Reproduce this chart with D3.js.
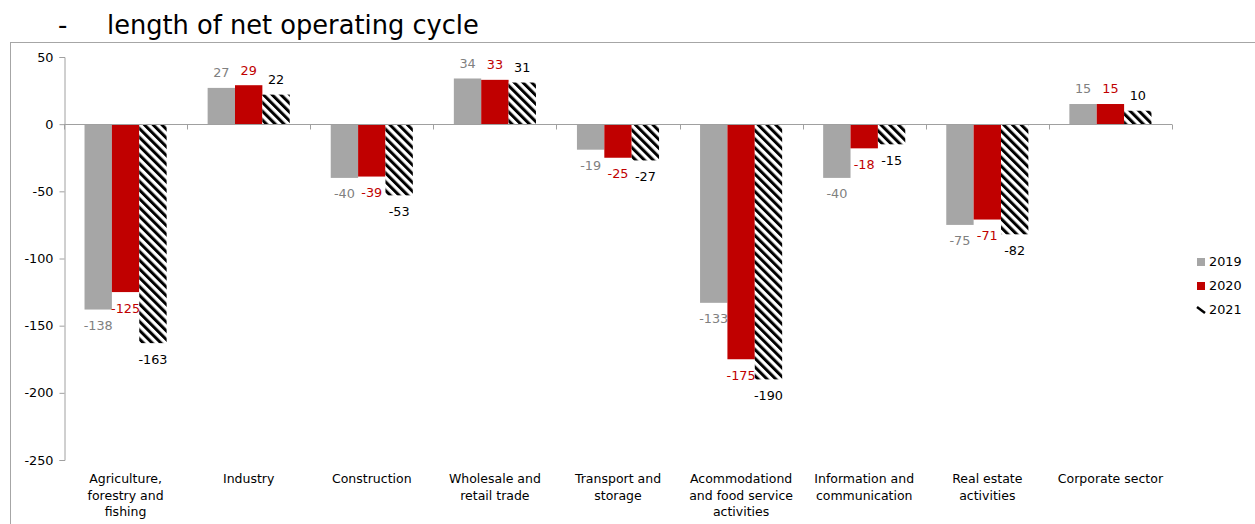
<!DOCTYPE html>
<html><head><meta charset="utf-8">
<script src="https://cdn.jsdelivr.net/npm/d3@7"></script>
<style>body{margin:0;background:#fff;} svg{display:block;}</style>
</head><body>
<script>
const categories = [
  ["Agriculture,", "forestry and", "fishing"],
  ["Industry"],
  ["Construction"],
  ["Wholesale and", "retail trade"],
  ["Transport and", "storage"],
  ["Acommodationd", "and food service", "activities"],
  ["Information and", "communication"],
  ["Real estate", "activities"],
  ["Corporate sector"]
];
const seriesNames = ["2019", "2020", "2021"];
const values2019 = [-138, 27, -40, 34, -19, -133, -40, -75, 15];
const values2020 = [-125, 29, -39, 33, -25, -175, -18, -71, 15];
const values2021 = [-163, 22, -53, 31, -27, -190, -15, -82, 10];
const yTicks = [50, 0, -50, -100, -150, -200, -250];
const titleText = "length of net operating cycle";

const W = 1255, H = 524;
const font = "DejaVu Sans, Verdana, sans-serif";
const svg = d3.select("body").append("svg").attr("width", W).attr("height", H);

const defs = svg.append("defs");
const pat = defs.append("pattern").attr("id", "hatch").attr("patternUnits", "userSpaceOnUse")
  .attr("width", 6.2).attr("height", 6.2).attr("patternTransform", "rotate(-45)");
pat.append("rect").attr("width", 6.2).attr("height", 6.2).attr("fill", "#fff");
pat.append("rect").attr("width", 3.0).attr("height", 6.2).attr("fill", "#000");

// frame
svg.append("line").attr("x1", 10.5).attr("x2", 10.5).attr("y1", 42).attr("y2", H).attr("stroke", "#a6a6a6");
svg.append("line").attr("x1", 10).attr("x2", W).attr("y1", 42.5).attr("y2", 42.5).attr("stroke", "#a6a6a6");

// title
svg.append("text").attr("x", 58).attr("y", 34).attr("font-family", font).attr("font-size", 26).attr("fill", "#000").text("-");
svg.append("text").attr("x", 107).attr("y", 34).attr("font-family", font).attr("font-size", 25.7).attr("fill", "#000").text(titleText);

const x0 = d3.scaleBand().domain(d3.range(categories.length)).range([64, 1172]).paddingInner(0.333).paddingOuter(0.1667);
const x1 = d3.scaleBand().domain(seriesNames).range([0, x0.bandwidth()]);
const y = d3.scaleLinear().domain([-250, 50]).range([460, 57]);

// y axis
const yAxis = svg.append("g").attr("transform", "translate(64.5,0)")
  .call(d3.axisLeft(y).tickValues(yTicks).tickSize(5).tickPadding(6).tickFormat(d => String(d)));
yAxis.select(".domain").attr("stroke", "#a0a0a0");
yAxis.selectAll(".tick line").attr("stroke", "#a0a0a0");
yAxis.selectAll("text").attr("font-family", font).attr("font-size", 12.8).attr("fill", "#000");

const colors = {"2019": "#a6a6a6", "2020": "#c00000", "2021": "url(#hatch)"};
const labelColors = {"2019": "#808080", "2020": "#c00000", "2021": "#000"};
const data = seriesNames.map((s, i) => ({s, vals: [values2019, values2020, values2021][i]}));

const g = svg.append("g");
data.forEach(ser => {
  g.selectAll(null).data(ser.vals).enter().append("rect")
    .attr("x", (d, i) => x0(i) + x1(ser.s))
    .attr("width", x1.bandwidth())
    .attr("y", d => y(Math.max(0, d)))
    .attr("height", d => Math.abs(y(d) - y(0)))
    .attr("fill", colors[ser.s]);
});

// zero axis with ticks
const zeroY = Math.round(y(0)) + 0.5;
svg.append("line").attr("x1", 64).attr("x2", 1172).attr("y1", zeroY).attr("y2", zeroY).attr("stroke", "#a0a0a0");
d3.range(categories.length + 1).forEach(i => {
  const xx = Math.round(64 + i * x0.step()) + 0.5;
  svg.append("line").attr("x1", xx).attr("x2", xx).attr("y1", zeroY).attr("y2", zeroY + 5).attr("stroke", "#a0a0a0");
});

// value labels
data.forEach(ser => {
  g.selectAll(null).data(ser.vals).enter().append("text")
    .attr("x", (d, i) => x0(i) + x1(ser.s) + x1.bandwidth() / 2)
    .attr("y", d => d >= 0 ? y(d) - 15 : y(d) + 16)
    .attr("dy", "0.35em")
    .attr("text-anchor", "middle")
    .attr("font-family", font).attr("font-size", 12.8)
    .attr("fill", labelColors[ser.s])
    .text(d => String(d));
});

// category labels
categories.forEach((lines, i) => {
  const t = svg.append("text").attr("font-family", font).attr("font-size", 12.5).attr("fill", "#000")
    .attr("text-anchor", "middle");
  lines.forEach((ln, j) => {
    t.append("tspan").attr("x", x0(i) + x0.bandwidth() / 2).attr("y", 479 + j * 16.5).attr("dy", "0.35em").text(ln);
  });
});

// legend
const leg = svg.append("g");
seriesNames.forEach((s, i) => {
  const cy = 262 + i * 24;
  if (s === "2021") {
    leg.append("line").attr("x1", 1197).attr("y1", cy - 3).attr("x2", 1205).attr("y2", cy + 3)
      .attr("stroke", "#000").attr("stroke-width", 2.5);
  } else {
    leg.append("rect").attr("x", 1197).attr("y", cy - 4).attr("width", 8).attr("height", 8).attr("fill", colors[s]);
  }
  leg.append("text").attr("x", 1209).attr("y", cy).attr("dy", "0.35em")
    .attr("font-family", font).attr("font-size", 12.8).attr("fill", "#000").text(s);
});
</script>
</body></html>
